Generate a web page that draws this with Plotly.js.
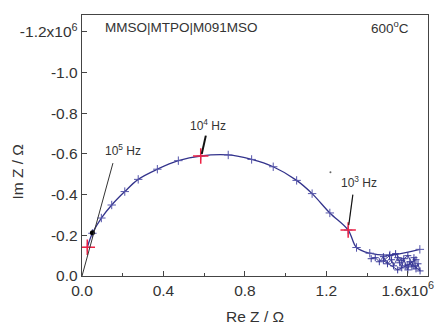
<!DOCTYPE html>
<html>
<head>
<meta charset="utf-8">
<script src="https://cdn.plot.ly/plotly-3.0.1.min.js"></script>
<style>html,body{margin:0;padding:0;background:#fff;}#chart{width:437px;height:325px;}</style>
</head>
<body>
<div id="chart"></div>
<script>
// Measured impedance (Re Z, Im Z) in ohms
var reZ = [0.026e6, 0.051e6, 0.095e6, 0.146e6, 0.21e6, 0.276e6, 0.37e6, 0.473e6, 0.583e6, 0.718e6, 0.833e6, 0.939e6, 1.054e6, 1.13e6, 1.217e6, 1.307e6, 1.348e6, 1.413e6, 1.512e6, 1.659e6];
var imZ = [-0.141e6, -0.210e6, -0.285e6, -0.349e6, -0.415e6, -0.475e6, -0.525e6, -0.567e6, -0.590e6, -0.595e6, -0.573e6, -0.537e6, -0.470e6, -0.405e6, -0.310e6, -0.226e6, -0.140e6, -0.112e6, -0.103e6, -0.131e6];
// Low-frequency scattered points
var reNoise = [1.42e6, 1.44e6, 1.46e6, 1.48e6, 1.50e6, 1.52e6, 1.53e6, 1.55e6, 1.56e6, 1.57e6, 1.58e6, 1.59e6, 1.60e6, 1.61e6, 1.62e6, 1.63e6, 1.64e6, 1.65e6, 1.66e6, 1.63e6, 1.60e6, 1.57e6, 1.54e6, 1.51e6, 1.48e6, 1.55e6, 1.60e6, 1.64e6];
var imNoise = [-0.085e6, -0.09e6, -0.07e6, -0.095e6, -0.06e6, -0.08e6, -0.05e6, -0.09e6, -0.065e6, -0.04e6, -0.085e6, -0.05e6, -0.03e6, -0.07e6, -0.045e6, -0.09e6, -0.035e6, -0.06e6, -0.025e6, -0.05e6, -0.10e6, -0.075e6, -0.11e6, -0.10e6, -0.075e6, -0.03e6, -0.055e6, -0.08e6];
// Marked frequencies
var freqLabels = ["10<sup>5</sup> Hz", "10<sup>4</sup> Hz", "10<sup>3</sup> Hz"];
var freqRe = [0.026e6, 0.583e6, 1.307e6];
var freqIm = [-0.141e6, -0.590e6, -0.226e6];
var xTickVals = [0, 0.4e6, 0.8e6, 1.2e6, 1.6e6];
var xTickText = ["0.0", "0.4", "0.8", "1.2", "1.6x10<sup>6</sup>"];
var yTickVals = [0, -0.2e6, -0.4e6, -0.6e6, -0.8e6, -1.0e6, -1.2e6];
var yTickText = ["0.0", "-0.2", "-0.4", "-0.6", "-0.8", "-1.0", "-1.2x10<sup>6</sup>"];

var navy = '#33338c';
var traces = [
  {x: reZ, y: imZ, mode: 'lines+markers', line: {color: navy, width: 1.3, shape: 'spline', smoothing: 1},
   marker: {symbol: 'cross-thin', size: 6, line: {color: '#5555aa', width: 1}}, hoverinfo: 'none'},
  {x: reNoise, y: imNoise, mode: 'lines+markers', line: {color: '#2a2a88', width: 0.9},
   marker: {symbol: 'cross-thin', size: 5, line: {color: '#3a3a9a', width: 1}}, hoverinfo: 'none'},
  {x: freqRe, y: freqIm, mode: 'markers',
   marker: {symbol: 'cross-thin', size: 11, line: {color: '#ee2244', width: 1.5}}, hoverinfo: 'none'},
  {x: [0.051e6], y: [-0.212e6], mode: 'markers', marker: {color: '#000', size: 5}, hoverinfo: 'none'},
  {x: [1.22e6], y: [-0.51e6], mode: 'markers', marker: {color: '#666', size: 2}, hoverinfo: 'none'}
];

var ff = 'Liberation Sans, Arial, sans-serif';
var font = {family: ff, size: 13.5, color: '#333'};
var tickFont = {family: ff, size: 15.5, color: '#333'};
var layout = {
  width: 437, height: 325,
  margin: {l: 82, r: 9, t: 15, b: 49},
  paper_bgcolor: '#fff', plot_bgcolor: '#fff',
  showlegend: false,
  font: font,
  xaxis: {
    range: [0, 1.699e6], showgrid: false, zeroline: false,
    showline: true, linecolor: '#444', linewidth: 1.3, mirror: true,
    ticks: 'inside', ticklen: 5, tickcolor: '#444',
    tickvals: xTickVals, ticktext: xTickText, tickfont: tickFont,
    minor: {tickvals: [0.2e6, 0.6e6, 1.0e6, 1.4e6], ticks: 'inside', ticklen: 3, tickcolor: '#444'}
  },
  yaxis: {
    range: [0, -1.283e6], showgrid: false, zeroline: false,
    showline: true, linecolor: '#444', linewidth: 1.3, mirror: true,
    ticks: 'inside', ticklen: 5, tickcolor: '#444',
    tickvals: yTickVals, ticktext: yTickText, tickfont: tickFont
  },
  shapes: [
    {type: 'line', xref: 'x', yref: 'y', x0: 0, y0: 0, x1: 0.152e6, y1: -0.555e6, line: {color: '#333', width: 1}},
    {type: 'line', xref: 'x', yref: 'y', x0: 0.608e6, y0: -0.69e6, x1: 0.588e6, y1: -0.6e6, line: {color: '#111', width: 2}},
    {type: 'line', xref: 'x', yref: 'y', x0: 1.33e6, y0: -0.40e6, x1: 1.31e6, y1: -0.25e6, line: {color: '#111', width: 1.2}}
  ],
  annotations: [
    {x: 0.5, y: -0.157, xref: 'paper', yref: 'paper', xanchor: 'center', yanchor: 'middle', text: 'Re Z / Ω', showarrow: false, font: tickFont},
    {x: -0.185, y: 0.40, xref: 'paper', yref: 'paper', xanchor: 'center', yanchor: 'middle', text: 'Im Z / Ω', textangle: -90, showarrow: false, font: tickFont},
    {x: 0.06, y: 0.953, xref: 'paper', yref: 'paper', xanchor: 'left', yanchor: 'middle', text: 'MMSO|MTPO|M091MSO', showarrow: false, font: font},
    {x: 0.89, y: 0.953, xref: 'paper', yref: 'paper', xanchor: 'center', yanchor: 'middle', text: '600<sup>o</sup>C', showarrow: false, font: font},
    {x: 0.2e6, y: -0.62e6, xref: 'x', yref: 'y', text: freqLabels[0], showarrow: false, font: {family: ff, size: 12, color: '#333'}},
    {x: 0.62e6, y: -0.74e6, xref: 'x', yref: 'y', text: freqLabels[1], showarrow: false, font: {family: ff, size: 12, color: '#333'}},
    {x: 1.36e6, y: -0.46e6, xref: 'x', yref: 'y', text: freqLabels[2], showarrow: false, font: {family: ff, size: 12, color: '#333'}}
  ]
};
Plotly.newPlot('chart', traces, layout, {displayModeBar: false, staticPlot: true});
</script>
</body>
</html>
